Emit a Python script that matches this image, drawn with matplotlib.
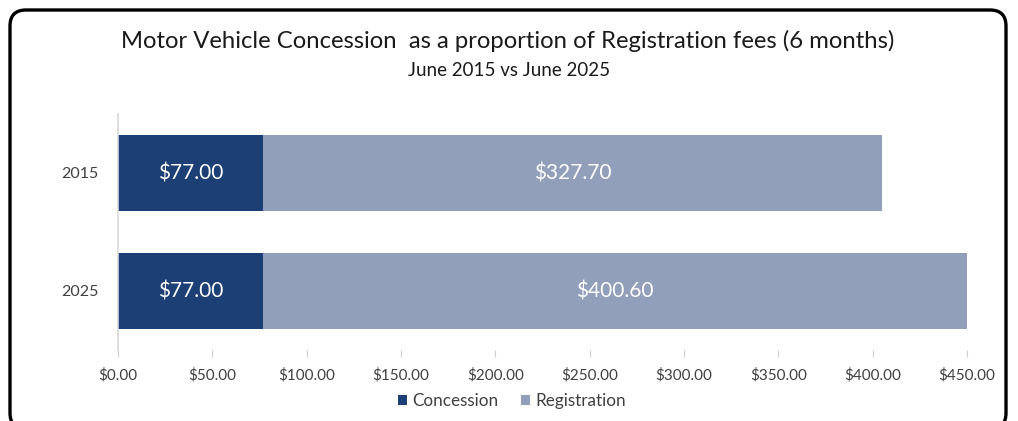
import matplotlib
matplotlib.use("Agg")
import matplotlib.pyplot as plt
from matplotlib.patches import FancyBboxPatch

categories = ["2015", "2025"]
concession = [77.00, 77.00]
registration = [327.70, 400.60]
series_names = ["Concession", "Registration"]
xticks = [0, 50, 100, 150, 200, 250, 300, 350, 400, 450]

title = "Motor Vehicle Concession  as a proportion of Registration fees (6 months)"
subtitle = "June 2015 vs June 2025"

c_dark = "#1C3F75"
c_light = "#929FBA"
txt = "#404040"

plt.rcParams['font.family'] = ['Lato', 'DejaVu Sans']

W, H = 1018, 421
fig = plt.figure(figsize=(W/100, H/100), dpi=100)

# border frame in pixel coordinates (y measured from bottom)
bg = fig.add_axes([0, 0, 1, 1])
bg.set_xlim(0, W)
bg.set_ylim(0, H)
bg.axis("off")
bg.add_patch(FancyBboxPatch((10, -8), 996, H - 10 + 8,
                            boxstyle="round,pad=0,rounding_size=16",
                            fill=False, edgecolor="black", linewidth=2.4))

ax = fig.add_axes([118/W, 1-350/H, (967-118)/W, (350-114)/H])

xmax = 450
y = list(range(len(categories)))
h = 76/118
ax.barh(y, concession, height=h, color=c_dark, label=series_names[0])
ax.barh(y, registration, left=concession, height=h, color=c_light, label=series_names[1])
ax.set_xlim(0, xmax)
ax.set_ylim(len(categories)-0.5, -0.5)

for i in y:
    ax.text(concession[i]/2, i, f"${concession[i]:.2f}", ha="center", va="center",
            color="white", fontsize=15)
    end = min(concession[i] + registration[i], xmax)
    ax.text((concession[i] + end)/2, i, f"${registration[i]:.2f}", ha="center", va="center",
            color="white", fontsize=15)

ax.set_yticks(y)
ax.set_yticklabels(categories, fontsize=11.5, color=txt)
ax.set_xticks(xticks)
ax.set_xticklabels([f"${v:.2f}" for v in xticks], fontsize=11, color=txt)
ax.tick_params(axis="y", length=0, pad=14)
ax.tick_params(axis="x", length=5, color="#D0D0D0", pad=8)
for s in ["top", "right", "bottom"]:
    ax.spines[s].set_visible(False)
ax.spines["left"].set_color("#D9D9D9")
ax.spines["left"].set_linewidth(1.2)

fig.text(508/W, 1-41/H, title, ha="center", va="center", fontsize=17.2, color="#1a1a1a")
fig.text(509/W, 1-70/H, subtitle, ha="center", va="center", fontsize=13.5, color="#1a1a1a")

leg = fig.legend(loc="center", bbox_to_anchor=(512/W, 1-401/H), ncol=2, frameon=False,
                 fontsize=12.3, handlelength=0.55, handleheight=0.55, handletextpad=0.3,
                 columnspacing=1.3, labelcolor=txt)

fig.savefig("out.png", dpi=100)
